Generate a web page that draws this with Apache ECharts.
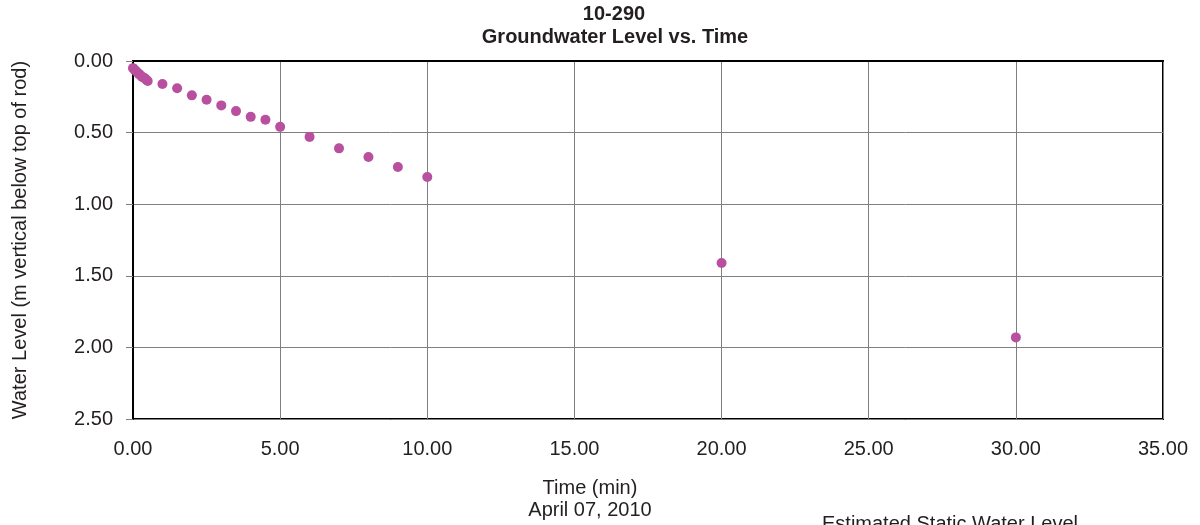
<!DOCTYPE html>
<html>
<head>
<meta charset="utf-8">
<script src="https://cdn.jsdelivr.net/npm/echarts@6/dist/echarts.min.js"></script>
<style>
html,body{margin:0;padding:0;background:#fff;}
#chart{width:1200px;height:525px;}
</style>
</head>
<body>
<div id="chart"></div>
<script>
var timeMin = [0, 0.05, 0.1, 0.15, 0.2, 0.25, 0.3, 0.35, 0.4, 0.45, 0.5, 1, 1.5, 2, 2.5, 3, 3.5, 4, 4.5, 5, 6, 7, 8, 9, 10, 20, 30];
var waterLevel = [0.05, 0.06, 0.07, 0.08, 0.09, 0.10, 0.11, 0.115, 0.12, 0.13, 0.14, 0.16, 0.19, 0.24, 0.27, 0.31, 0.35, 0.39, 0.41, 0.46, 0.53, 0.61, 0.67, 0.74, 0.81, 1.41, 1.93];
var titleLines = ['10-290', 'Groundwater Level vs. Time'];
var xName = ['Time (min)', 'April 07, 2010'];
var yName = 'Water Level (m vertical below top of rod)';
var noteText = 'Estimated Static Water Level';

var pts = timeMin.map(function (t, i) { return [t, waterLevel[i]]; });
var font = 'Liberation Sans, Arial, sans-serif';
var txt = '#231f20';

var chart = echarts.init(document.getElementById('chart'), null, {renderer: 'canvas'});
chart.setOption({
  animation: false,
  backgroundColor: '#fff',
  grid: {left: 133, right: 37, top: 61, bottom: 106, show: true, borderColor: '#000', borderWidth: 2, containLabel: false, outerBoundsMode: 'none'},
  xAxis: {
    type: 'value', min: 0, max: 35, interval: 5,
    axisLine: {show: true, lineStyle: {color: '#000', width: 2}},
    axisTick: {show: false},
    splitLine: {show: true, lineStyle: {color: '#7f7f7f', width: 1}},
    axisLabel: {formatter: function (v) { return v.toFixed(2); }, color: txt, fontFamily: font, fontSize: 20, margin: 20}
  },
  yAxis: {
    type: 'value', inverse: true, min: 0, max: 2.5, interval: 0.5,
    axisLine: {show: true, onZero: false, lineStyle: {color: '#000', width: 2}},
    axisTick: {show: true, length: 7, lineStyle: {color: '#7f7f7f'}},
    splitLine: {show: true, lineStyle: {color: '#7f7f7f', width: 1}},
    axisLabel: {formatter: function (v) { return v.toFixed(2); }, color: txt, fontFamily: font, fontSize: 20, margin: 20},
    name: yName, nameLocation: 'middle', nameGap: 103, nameRotate: 90,
    nameTextStyle: {color: txt, fontFamily: font, fontSize: 20}
  },
  graphic: [
    {type: 'text', x: 614, y: 14, style: {text: titleLines[0], font: 'bold 20px ' + font, fill: txt, align: 'center', verticalAlign: 'middle'}},
    {type: 'text', x: 615, y: 37, style: {text: titleLines[1], font: 'bold 20px ' + font, fill: txt, align: 'center', verticalAlign: 'middle'}},
    {type: 'text', x: 590, y: 488, style: {text: xName[0], font: '20px ' + font, fill: txt, align: 'center', verticalAlign: 'middle'}},
    {type: 'text', x: 590, y: 510, style: {text: xName[1], font: '20px ' + font, fill: txt, align: 'center', verticalAlign: 'middle'}},
    {type: 'text', x: 822, y: 514, style: {text: noteText, font: '20px ' + font, fill: txt, verticalAlign: 'top'}}
  ],
  series: [{
    type: 'scatter', data: pts, symbol: 'circle', symbolSize: 10,
    itemStyle: {color: '#b8509f', opacity: 1}
  }]
});
</script>
</body>
</html>
